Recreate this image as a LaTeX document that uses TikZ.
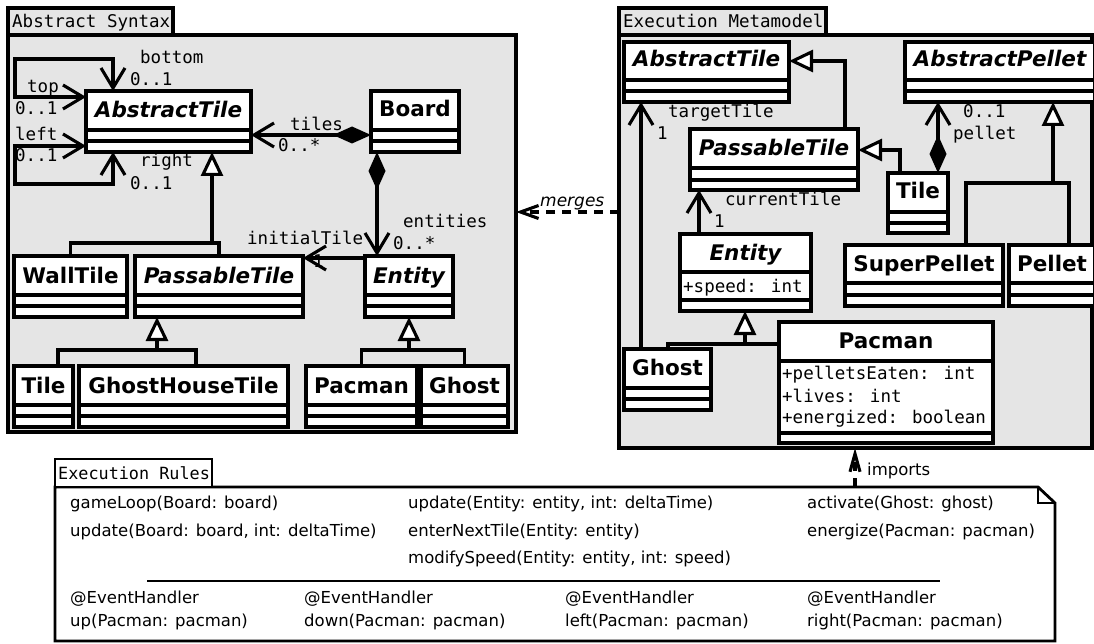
\documentclass[tikz,border=0pt]{standalone}
\usepackage{fontspec}
\setmainfont{DejaVu Sans}
\newfontfamily\monof{DejaVu Sans Mono}
\usetikzlibrary{arrows.meta}
\definecolor{pkggray}{RGB}{229,229,229}
\tikzset{
  obarb/.tip={Straight Barb[length=20pt,width=24pt]},
  sbarb/.tip={Straight Barb[length=18pt,width=13pt]},
  gtri/.tip={Triangle[length=24pt,width=22pt,fill=white]},
  cdia/.tip={Diamond[length=38pt,width=17pt]},
  conn/.style={line width=3.1pt},
  dep/.style={line width=3.1pt, dash pattern=on 9pt off 7pt},
  pkgbox/.style={draw, line width=3.1pt, fill=pkggray, inner sep=0pt, outer sep=0pt, anchor=north west},
  clsbox/.style={draw, line width=3.1pt, fill=white, inner sep=0pt, outer sep=0pt, anchor=north west},
  cn/.style={font=\fontsize{21.5}{24}\selectfont\bfseries, inner sep=0pt, anchor=base},
  an/.style={font=\fontsize{21.5}{24}\selectfont\bfseries\itshape, inner sep=0pt, anchor=base},
  ml/.style={font=\monof\fontsize{17.5}{20}\selectfont, inner sep=0pt, anchor=base west},
  rt/.style={font=\fontsize{16.5}{20}\selectfont, inner sep=0pt, anchor=base west},
}
\newcommand\umlbox[7]{%
  \node[clsbox, minimum width=(#4-#2)*1pt, minimum height=(#5-#3)*1pt] (#1) at (#2,#3) {};
  \draw[conn] (#2,#6) -- (#4,#6);
  \draw[conn] (#2,#7) -- (#4,#7);
}
\begin{document}
\begin{tikzpicture}[x=1pt,y=-1pt]
\clip (0,0) rectangle (1094,644);
\fill[white] (0,0) rectangle (1094,644);

% ---------- packages ----------
\node[pkgbox, minimum width=508pt, minimum height=397pt] (lp) at (8,35) {};
\node[pkgbox, minimum width=165pt, minimum height=27pt] (lpt) at (8,8) {};
\node[ml] (lptx) at (12,28) {Abstract Syntax};

\node[pkgbox, minimum width=473pt, minimum height=413pt] (rp) at (619,35) {};
\node[pkgbox, minimum width=207pt, minimum height=27pt] (rpt) at (619,8) {};
\node[ml] (rptx) at (623,28) {Execution Metamodel};

% ---------- note ----------
\node[minimum width=1000pt, minimum height=154pt, inner sep=0pt, outer sep=0pt, anchor=north west] (note) at (55,487) {};
\draw[line width=2.8pt, fill=white] (note.north west) -- ([xshift=-17pt]note.north east) -- ([yshift=-16pt]note.north east) -- (note.south east) -- (note.south west) -- cycle;
\draw[line width=1.8pt] ([xshift=-17pt]note.north east) |- ([yshift=-16pt]note.north east);
\node[draw, line width=2.6pt, fill=white, minimum width=157pt, minimum height=28pt, inner sep=0pt, outer sep=0pt, anchor=north west] (ntab) at (55,459) {};
\node[ml, font=\monof\fontsize{16.8}{20}\selectfont] (ntabx) at (58,479) {Execution Rules};

\node[rt] (r1a) at (70,508) {gameLoop(Board: board)};
\node[rt] (r1b) at (70,536) {update(Board: board, int: deltaTime)};
\node[rt] (r2a) at (408,508) {update(Entity: entity, int: deltaTime)};
\node[rt] (r2b) at (408,536) {enterNextTile(Entity: entity)};
\node[rt] (r2c) at (408,563) {modifySpeed(Entity: entity, int: speed)};
\node[rt] (r3a) at (807,508) {activate(Ghost: ghost)};
\node[rt] (r3b) at (807,536) {energize(Pacman: pacman)};
\draw[line width=1.3pt] (147,581) -- (940,581);
\node[rt] (e1a) at (70,603) {@EventHandler};
\node[rt] (e1b) at (70,626) {up(Pacman: pacman)};
\node[rt] (e2a) at (304,603) {@EventHandler};
\node[rt] (e2b) at (304,626) {down(Pacman: pacman)};
\node[rt] (e3a) at (565,603) {@EventHandler};
\node[rt] (e3b) at (565,626) {left(Pacman: pacman)};
\node[rt] (e4a) at (807,603) {@EventHandler};
\node[rt] (e4b) at (807,626) {right(Pacman: pacman)};

% ---------- left classes ----------
\umlbox{AT}{86}{91}{251}{152}{130}{141}
\node[an] (ATn) at (168.5,118) {AbstractTile};
\umlbox{Bd}{371}{91}{459}{152}{130}{141}
\node[cn] (Bdn) at (415,117) {Board};
\umlbox{WT}{14}{256}{127}{317}{295}{306}
\node[cn] (WTn) at (70.5,283) {WallTile};
\umlbox{PT}{135}{256}{303}{317}{295}{306}
\node[an] (PTn) at (219,283) {PassableTile};
\umlbox{En}{365}{256}{453}{317}{295}{306}
\node[an] (Enn) at (409,283) {Entity};
\umlbox{Ti}{14}{366}{73}{427}{405}{416}
\node[cn] (Tin) at (43.5,393) {Tile};
\umlbox{GH}{79}{366}{288}{427}{405}{416}
\node[cn] (GHn) at (183.5,393) {GhostHouseTile};
\umlbox{Pc}{306}{366}{417}{427}{405}{416}
\node[cn] (Pcn) at (361.5,393) {Pacman};
\umlbox{Gh}{421}{366}{508}{427}{405}{416}
\node[cn] (Ghn) at (464.5,393) {Ghost};

% ---------- right classes ----------
\umlbox{RAT}{624}{42}{789}{102}{80}{91}
\node[an] (RATn) at (706.5,67) {AbstractTile};
\umlbox{AP}{905}{42}{1095}{102}{80}{91}
\node[an] (APn) at (1000,67) {AbstractPellet};
\umlbox{RPT}{690}{129}{858}{190}{168}{180}
\node[an] (RPTn) at (774,156) {PassableTile};
\umlbox{RTi}{888}{173}{948}{233}{212}{223}
\node[cn] (RTin) at (918,199) {Tile};
\umlbox{SP}{845}{245}{1003}{306}{283}{295}
\node[cn] (SPn) at (924,272) {SuperPellet};
\umlbox{Pe}{1009}{245}{1095}{306}{283}{295}
\node[cn] (Pen) at (1052,272) {Pellet};
\umlbox{REn}{680}{234}{811}{311}{272}{300}
\node[an] (REnn) at (745.5,261) {Entity};
\node[ml] (REna) at (683,292) {+speed: int};
\umlbox{RGh}{624}{349}{711}{410}{388}{399}
\node[cn] (RGhn) at (667.5,375) {Ghost};
\umlbox{RPc}{779}{322}{993}{443}{361}{433}
\node[cn] (RPcn) at (886,348) {Pacman};
\node[ml] (RPca) at (782,379) {+pelletsEaten: int};
\node[ml] (RPcb) at (782,402) {+lives: int};
\node[ml] (RPcc) at (782,423) {+energized: boolean};

% ---------- left connectors ----------
\draw[conn,{obarb}-{obarb}] (AT.west |- 0,97) -- (15,97) -- (15,59) -- (113,59) -- (AT.north -| 113,0);
\draw[conn,{obarb}-{obarb}] (AT.west |- 0,146) -- (15,146) -- (15,184) -- (113,184) -- (AT.south -| 113,0);
\draw[conn,{cdia}-{obarb}] (Bd.west |- 0,135) -- (AT.east |- 0,135);
\draw[conn,{cdia}-{obarb}] (Bd.south -| 377,0) -- (En.north -| 377,0);
\draw[conn,-{obarb}] (En.west |- 0,258) -- (PT.east |- 0,258);
\draw[conn,-{gtri}] (WT.north) |- (212,243) -- (AT.south -| 212,0);
\draw[conn] (PT.north) |- (212,243);
\draw[conn,-{gtri}] (Ti.north -| 58,0) |- (157,350) -- (PT.south -| 157,0);
\draw[conn] (GH.north -| 196,0) |- (157,350);
\draw[conn,-{gtri}] (Pc.north) |- (409,350) -- (En.south);
\draw[conn] (Gh.north) |- (409,350);

\node[ml] (l1) at (140,64) {bottom};
\node[ml] (l2) at (130,86) {0..1};
\node[ml] (l3) at (27,93) {top};
\node[ml] (l4) at (15,115) {0..1};
\node[ml] (l5) at (15,141) {left};
\node[ml] (l6) at (15,162) {0..1};
\node[ml] (l7) at (140,167) {right};
\node[ml] (l8) at (130,190) {0..1};
\node[ml] (l9) at (290,131) {tiles};
\node[ml] (l10) at (278,152) {0..*};
\node[ml] (l11) at (403,228) {entities};
\node[ml] (l12) at (393,250) {0..*};
\node[ml] (l13) at (247,245) {initialTile};
\node[ml] (l14) at (313,268) {1};

% ---------- right connectors ----------
\draw[conn,-{gtri}] (RPT.north -| 845,0) |- (RAT.east |- 0,61);
\draw[conn,-{gtri}] (RTi.north -| 900,0) |- (RPT.east |- 0,150);
\draw[conn,{cdia}-{obarb}] (RTi.north -| 938,0) -- (AP.south -| 938,0);
\draw[conn,-{gtri}] (SP.north -| 966,0) |- (1053,183) -- (AP.south -| 1053,0);
\draw[conn] (Pe.north -| 1069,0) |- (1053,183);
\draw[conn,-{obarb}] (REn.north -| 699,0) -- (RPT.south -| 699,0);
\draw[conn,-{obarb}] (RGh.north -| 641,0) -- (RAT.south -| 641,0);
\draw[conn,-{gtri}] (RGh.north -| 668,0) |- (745,344) -- (REn.south -| 745,0);
\draw[conn] (RPc.west |- 0,344) -- (745,344);

\node[ml] (m1) at (668,118) {targetTile};
\node[ml] (m2) at (657,140) {1};
\node[ml] (m3) at (963,118) {0..1};
\node[ml] (m4) at (953,140) {pellet};
\node[ml] (m5) at (725,206) {currentTile};
\node[ml] (m6) at (714,228) {1};

% ---------- dependencies ----------
\draw[dep,-{sbarb}] (rp.west |- 0,212) -- (lp.east |- 0,212);
\node[font=\fontsize{17}{20}\selectfont\itshape, inner sep=0pt, anchor=base west] (mg) at (540,207) {merges};
\draw[dep,-{Straight Barb[length=18pt,width=10pt]}] (note.north -| 855,0) -- (rp.south -| 855,0);
\node[rt] (imp) at (867,475) {imports};
\end{tikzpicture}
\end{document}
